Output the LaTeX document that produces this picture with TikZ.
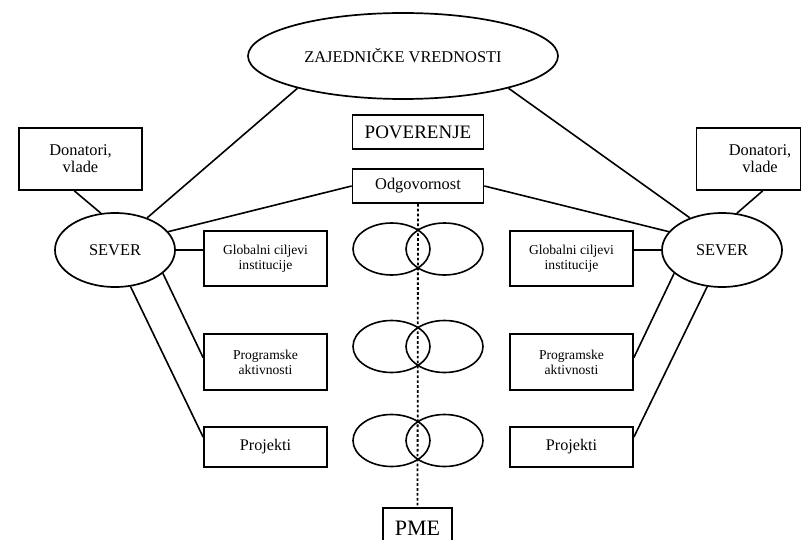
\documentclass[tikz,border=0pt]{standalone}
\usepackage{fontspec}
\setmainfont{Liberation Serif}
\usetikzlibrary{shapes.geometric}
\begin{document}
\begin{tikzpicture}[
  x=1pt, y=-1pt,
  every node/.style={align=center, inner sep=0pt},
  box/.style={rectangle, draw=black, line width=1.7pt},
  oval/.style={ellipse, draw=black, line width=1.7pt},
  ring/.style={ellipse, draw=black, line width=1.6pt,
               minimum width=77pt, minimum height=52pt},
  link/.style={line width=1.6pt},
  axis/.style={line width=1.8pt, dash pattern=on 2.7pt off 2.2pt}
]
  \clip (0,0) rectangle (802,540);

  % Top ellipse
  \node[oval, minimum width=310pt, minimum height=86pt,
        font=\fontsize{16.4}{19}\selectfont]
    (values) at (403,56) {ZAJEDNIČKE VREDNOSTI};

  % Centre column
  \node[box, minimum width=131pt, minimum height=34pt,
        font=\fontsize{19}{21}\selectfont]
    (trust) at (418,132) {POVERENJE};
  \node[box, minimum width=131pt, minimum height=34pt,
        font=\fontsize{16.4}{19}\selectfont]
    (resp) at (418,186) {Odgovornost};
  \node[box, minimum width=69pt, minimum height=40pt,
        font=\fontsize{22}{24}\selectfont]
    (pme) at (417.5,528) {PME};

  % Overlapping ellipse pairs
  \foreach \y/\n in {249/a, 346.5/b, 440.5/c} {
    \node[ring] (ringL\n) at (391.5,\y) {};
    \node[ring] (ringR\n) at (444.5,\y) {};
  }

  % Left side
  \node[box, minimum width=123pt, minimum height=62pt,
        font=\fontsize{16.4}{17}\selectfont]
    (donL) at (80.5,159) {Donatori,\\vlade};
  \node[oval, minimum width=120pt, minimum height=74pt,
        font=\fontsize{16.4}{19}\selectfont]
    (severL) at (115,250) {SEVER};
  \node[box, minimum width=123pt, minimum height=55pt,
        font=\fontsize{13.6}{15}\selectfont]
    (globL) at (265.5,258.5) {Globalni ciljevi\\institucije};
  \node[box, minimum width=123pt, minimum height=56pt,
        font=\fontsize{13.6}{15}\selectfont]
    (progL) at (265.5,362) {Programske\\aktivnosti};
  \node[box, minimum width=123pt, minimum height=40pt,
        font=\fontsize{16.2}{18}\selectfont]
    (projL) at (265.5,447) {Projekti};

  % Right side
  \node[box, minimum width=104pt, minimum height=62pt,
        font=\fontsize{16.4}{17}\selectfont]
    (donR) at (748.5,159) {\hspace*{23pt}Donatori,\\\hspace*{23pt}vlade};
  \node[oval, minimum width=120pt, minimum height=74pt,
        font=\fontsize{16.4}{19}\selectfont]
    (severR) at (722,250) {SEVER};
  \node[box, minimum width=123pt, minimum height=55pt,
        font=\fontsize{13.6}{15}\selectfont]
    (globR) at (571.5,258.5) {Globalni ciljevi\\institucije};
  \node[box, minimum width=123pt, minimum height=56pt,
        font=\fontsize{13.6}{15}\selectfont]
    (progR) at (571.5,362) {Programske\\aktivnosti};
  \node[box, minimum width=123pt, minimum height=40pt,
        font=\fontsize{16.2}{18}\selectfont]
    (projR) at (571.5,447) {Projekti};

  % Connectors
  \draw[link] (values.197) -- (severL.45);
  \draw[link] (values.-17) -- (severR.135);
  \draw[link] (donL.-101) -- (severL.111);
  \draw[link] (donR.-66) -- (severR.68);
  \draw[link] (resp.west) -- (severL.19);
  \draw[link] (resp.east) -- (severR.161);
  \draw[link] (severL.east) -- (severL.east -| globL.west);
  \draw[link] (severR.west -| globR.east) -- (severR.west);
  \draw[link] (severL.-26) -- (progL.176);
  \draw[link] (severL.-67) -- (projL.171);
  \draw[link] (severR.206) -- (progR.4);
  \draw[link] (severR.248) -- (projR.9);

  % Dotted axis
  \draw[axis] (resp.south) -- (pme.north);
\end{tikzpicture}
\end{document}
